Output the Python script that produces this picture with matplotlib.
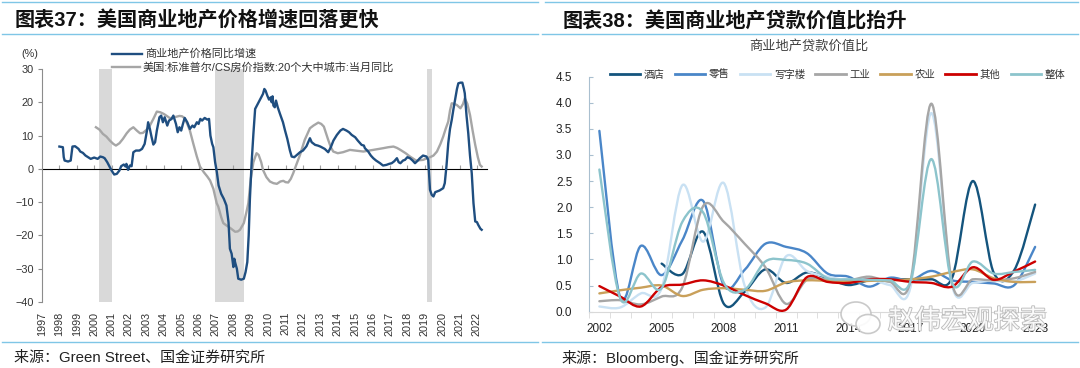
import numpy as np
import matplotlib
matplotlib.use('Agg')
import matplotlib.pyplot as plt
from matplotlib.path import Path
from matplotlib.patches import PathPatch, Ellipse
from matplotlib.lines import Line2D
import matplotlib.patheffects as pe

FAM = ['Liberation Sans', 'Noto Sans CJK SC']
plt.rcParams['font.family'] = FAM

# ---------------- Left chart data ----------------
left_title = '图表37：美国商业地产价格增速回落更快'
left_source = '来源：Green Street、国金证券研究所'
left_series_names = ['商业地产价格同比增速', '美国:标准普尔/CS房价指数:20个大中城市:当月同比']
left_years = list(range(1997, 2023))
left_yticks = [30, 20, 10, 0, -10, -20, -30, -40]
recessions = [(2000.26, 2001.02), (2006.96, 2008.6), (2019.11, 2019.43)]

cre_t = [1998.0, 1998.2, 1998.25, 1998.3, 1998.5, 1998.65, 1998.75, 1998.9, 1999.1, 1999.2,
         1999.35, 1999.5, 1999.65, 1999.8, 2000.0, 2000.2, 2000.35, 2000.5, 2000.6, 2000.75,
         2000.9, 2001.0, 2001.15, 2001.3, 2001.45, 2001.55, 2001.7, 2001.8, 2001.85, 2001.95,
         2002.05, 2002.15, 2002.25, 2002.4, 2002.6, 2002.75, 2002.9, 2003.05, 2003.1, 2003.2,
         2003.3, 2003.4, 2003.5, 2003.6, 2003.75, 2003.85, 2003.95, 2004.05, 2004.2, 2004.3,
         2004.45, 2004.55, 2004.7, 2004.8, 2004.9, 2005.0, 2005.1, 2005.2, 2005.35, 2005.5,
         2005.65, 2005.75, 2005.9, 2006.0, 2006.1, 2006.2, 2006.35, 2006.5, 2006.6, 2006.68,
         2006.78, 2006.85, 2006.95, 2007.05, 2007.15, 2007.3, 2007.45, 2007.6, 2007.72, 2007.8,
         2007.9, 2008.0, 2008.05, 2008.12, 2008.2, 2008.28, 2008.45, 2008.6, 2008.7, 2008.8,
         2008.88, 2008.95, 2009.05, 2009.15, 2009.25, 2009.4, 2009.55, 2009.7, 2009.78, 2009.85,
         2009.95, 2010.05, 2010.15, 2010.2, 2010.25, 2010.3, 2010.38, 2010.45, 2010.55, 2010.68,
         2010.85, 2010.97, 2011.1, 2011.25, 2011.35, 2011.5, 2011.65, 2011.83, 2012.0, 2012.2,
         2012.3, 2012.4, 2012.5, 2012.7, 2012.85, 2013.0, 2013.25, 2013.45, 2013.6, 2013.75,
         2013.95, 2014.15, 2014.3, 2014.5, 2014.65, 2014.8, 2015.0, 2015.15, 2015.37, 2015.5,
         2015.56, 2015.75, 2015.9, 2016.04, 2016.2, 2016.43, 2016.6, 2016.8, 2016.95, 2017.1,
         2017.25, 2017.4, 2017.5, 2017.6, 2017.75, 2017.86, 2018.0, 2018.15, 2018.3, 2018.44,
         2018.6, 2018.72, 2018.9, 2019.1, 2019.2, 2019.25, 2019.3, 2019.4, 2019.5, 2019.6,
         2019.7, 2019.85, 2020.06, 2020.15, 2020.25, 2020.35, 2020.45, 2020.55, 2020.65, 2020.74,
         2020.85, 2020.93, 2021.05, 2021.16, 2021.25, 2021.3, 2021.4, 2021.5, 2021.6, 2021.7,
         2021.8, 2021.9, 2022.0, 2022.07, 2022.2, 2022.27]
cre_v = [6.7, 6.5, 3.5, 2.5, 2.2, 2.5, 6.7, 6.8, 6.0, 5.2,
         4.8, 4.0, 3.5, 3.0, 3.4, 3.0, 3.7, 3.5, 3.2, 2.0,
         0.5, -0.5, -1.7, -1.5, -0.5, 0.8, 1.3, 0.7, 1.5, -0.3,
         1.0, 0.8, 5.0, 5.5, 5.5, 6.0, 7.5, 12.0, 14.0, 12.0,
         9.5, 7.3, 8.0, 11.5, 15.5, 16.0, 14.0, 15.5, 13.0, 14.5,
         15.0, 16.0, 13.5, 11.0, 12.5, 11.5, 13.5, 15.3, 14.0, 12.0,
         13.0, 12.5, 14.0, 13.5, 15.0, 14.5, 15.3, 14.8, 15.0, 10.0,
         7.5, 6.5, 2.0, -1.0, -5.0, -7.5, -9.0, -11.0, -16.0, -24.0,
         -25.5, -29.5, -27.0, -28.5, -30.0, -33.0, -33.3, -33.0, -31.0, -28.0,
         -20.0, -9.0, 2.0, 10.5, 18.0, 19.5, 21.0, 22.5, 24.0, 23.5,
         22.0, 20.8, 21.5, 20.0, 21.8, 19.0, 18.5, 20.5, 18.5, 16.5,
         14.0, 11.5, 9.0, 5.5, 3.7, 3.5, 4.2, 5.0, 5.5, 6.8,
         8.0, 9.2, 8.0, 7.2, 7.0, 6.7, 6.0, 5.0, 6.5, 8.5,
         10.2, 11.5, 12.0, 11.5, 11.0, 10.2, 9.5, 8.5, 7.2, 7.0,
         6.2, 5.2, 4.0, 3.2, 2.5, 1.7, 1.0, 1.2, 1.5, 1.7,
         2.3, 3.2, 2.0, 1.7, 2.5, 2.7, 3.5, 3.2, 2.5, 1.7,
         2.5, 3.2, 4.0, 3.7, 2.7, -2.0, -6.3, -7.8, -8.3, -7.0,
         -6.8, -6.5, -5.8, -4.3, 1.0, 7.7, 12.0, 14.7, 18.0, 20.7,
         24.0, 25.7, 25.9, 25.9, 24.0, 22.7, 16.0, 10.7, 4.0, -1.3,
         -10.3, -15.8, -16.0, -16.8, -18.0, -18.3]

cs_t = [2000.1, 2000.3, 2000.5, 2000.7, 2000.9, 2001.1, 2001.25, 2001.45, 2001.65, 2001.87,
        2002.05, 2002.25, 2002.45, 2002.63, 2002.8, 2003.0, 2003.2, 2003.4, 2003.6, 2003.8,
        2004.0, 2004.2, 2004.36, 2004.6, 2004.9, 2005.05, 2005.2, 2005.35, 2005.5, 2005.7,
        2005.9, 2006.08, 2006.3, 2006.5, 2006.66, 2006.85, 2007.04, 2007.13, 2007.3, 2007.42,
        2007.6, 2007.8, 2008.1, 2008.25, 2008.38, 2008.6, 2008.75, 2008.86, 2009.0, 2009.15,
        2009.33, 2009.45, 2009.6, 2009.7, 2009.9, 2010.1, 2010.3, 2010.5, 2010.7, 2010.87,
        2011.0, 2011.15, 2011.3, 2011.44, 2011.6, 2011.83, 2012.1, 2012.4, 2012.6, 2012.88,
        2013.05, 2013.2, 2013.45, 2013.6, 2013.74, 2014.0, 2014.3, 2014.7, 2015.0, 2015.47,
        2016.04, 2016.6, 2016.9, 2017.2, 2017.4, 2017.6, 2017.9, 2018.15, 2018.5, 2018.9,
        2019.3, 2019.5, 2019.7, 2019.9, 2020.06, 2020.2, 2020.35, 2020.45, 2020.55, 2020.7,
        2020.84, 2021.05, 2021.2, 2021.3, 2021.45, 2021.6, 2021.75, 2021.9, 2022.05, 2022.17,
        2022.27]
cs_v = [12.5, 11.8, 10.5, 9.7, 8.5, 7.5, 7.0, 7.7, 9.0, 10.7,
        11.8, 12.5, 11.5, 10.7, 10.8, 11.7, 13.0, 15.0, 17.2, 17.0,
        16.5, 15.8, 15.2, 15.5, 15.9, 15.8, 15.2, 13.5, 11.5, 7.5,
        3.7, 0.7, -1.0, -2.3, -3.5, -6.0, -10.3, -11.3, -14.5, -16.3,
        -17.0, -17.7, -18.9, -18.8, -18.3, -16.3, -13.0, -10.3, -3.0, 2.0,
        4.7, 4.2, 2.0, -0.3, -2.5, -3.8, -4.3, -4.5, -3.8, -3.6,
        -4.0, -4.1, -3.0, -1.3, 1.0, 4.2, 8.7, 12.2, 13.0, 13.9,
        13.5, 12.7, 8.7, 6.5, 5.2, 4.7, 5.0, 5.7, 5.5, 5.2,
        5.7, 6.2, 6.5, 6.7, 6.3, 5.7, 4.7, 3.7, 2.5, 2.7,
        3.5, 4.0, 5.2, 7.5, 9.7, 12.0, 14.2, 17.5, 19.7, 19.5,
        19.2, 18.2, 19.5, 21.2, 19.5, 16.2, 11.5, 7.2, 3.5, 1.2,
        0.7]

# ---------------- Right chart data ----------------
right_title = '图表38：美国商业地产贷款价值比抬升'
right_subtitle = '商业地产贷款价值比'
right_source = '来源：Bloomberg、国金证券研究所'
ltv_years = list(range(2002, 2024))
ltv_tick_years = [2002, 2005, 2008, 2011, 2014, 2017, 2020, 2023]
ltv_yticks = [0.0, 0.5, 1.0, 1.5, 2.0, 2.5, 3.0, 3.5, 4.0, 4.5]
nan = float('nan')
ltv_names = ['酒店', '零售', '写字楼', '工业', '农业', '其他', '整体']
hotel = [nan, nan, nan, 0.92, 0.72, 1.53, 0.15, 0.38, 0.81, 0.55, 0.75, 0.64, 0.51, 0.60,
         0.62, 0.62, 0.62, 0.65, 2.50, 0.75, 0.80, 2.05]
retail = [3.46, 0.28, 1.26, 0.70, 1.37, 2.12, 0.50, 0.80, 1.30, 1.24, 1.12, 0.73, 0.67, 0.48,
          0.65, 0.60, 0.78, 0.60, 0.57, 0.54, 0.51, 1.24]
office = [0.10, 0.08, 0.35, 0.45, 2.42, 1.34, 2.46, 0.50, 0.08, 1.06, 0.78, 0.67, 0.60, 0.62,
          0.51, 0.48, 3.80, 0.50, 0.55, 0.60, 0.58, 0.73]
industrial = [0.20, 0.22, 0.14, 0.29, 0.47, 2.02, 1.72, 1.30, 0.85, 0.15, 0.61, 0.62, 0.60,
              0.67, 0.57, 0.60, 3.98, 0.54, 0.62, 0.60, 0.64, 0.76]
agri = [0.35, 0.41, 0.46, 0.50, 0.30, 0.42, 0.45, 0.42, 0.40, 0.56, 0.60, 0.59, 0.57, 0.59,
        0.60, 0.62, 0.67, 0.76, 0.81, 0.64, 0.57, 0.57]
other = [0.49, 0.29, 0.10, 0.47, 0.52, 0.60, 0.50, 0.32, 0.16, 0.04, 0.66, 0.57, 0.55, 0.62,
         0.62, 0.57, 0.55, 0.48, 0.85, 0.61, 0.77, 0.96]
overall = [2.72, 0.26, 0.73, 0.45, 1.72, 1.90, 0.55, 0.42, 0.96, 0.99, 0.92, 0.64, 0.62, 0.61,
           0.60, 0.59, 2.92, 0.55, 0.96, 0.73, 0.76, 0.80]
ltv_series = [hotel, retail, office, industrial, agri, other, overall]
ltv_colors = ['#14547d', '#4a86c8', '#c9e1f3', '#a6a6a6', '#c9a05a', '#cc0000', '#8cc4cc']

W, H = 1080, 368
fig = plt.figure(figsize=(W / 100, H / 100), dpi=100)


def fx(px):
    return px / W


def fy(py):
    return 1 - py / H


def hline(x0, x1, y, color='#7fc6e6', lw=1.0):
    fig.add_artist(Line2D([fx(x0), fx(x1)], [fy(y), fy(y)], transform=fig.transFigure,
                          color=color, lw=lw))


# header / footer rules
hline(2, 538, 2)
hline(545, 1078, 2)
hline(2, 538, 33.5)
hline(542, 1078, 33.5)
hline(2, 538, 342)
hline(542, 1078, 342)

fig.text(fx(15), fy(21), left_title, fontsize=14.5, fontweight='bold', va='center', ha='left',
         color='#111111')
fig.text(fx(563), fy(21), right_title, fontsize=14.5, fontweight='bold', va='center', ha='left',
         color='#111111')
fig.text(fx(14), fy(358), left_source, fontsize=10.8, va='center', ha='left', color='#222222')
fig.text(fx(561), fy(358), right_source, fontsize=10.8, va='center', ha='left', color='#222222')

# ---------------- Left axes ----------------
axL = fig.add_axes([fx(42), fy(302), (487.4 - 42) / W, (302 - 69) / H])
axL.set_xlim(1997, 2022.6)
axL.set_ylim(-40, 30)
for a, b in recessions:
    axL.axvspan(a, b, color='#d9d9d9', lw=0, zorder=0)
axL.plot(cs_t, cs_v, color='#a6a6a6', lw=1.7, zorder=3)
axL.plot(cre_t, cre_v, color='#1f4e80', lw=1.7, zorder=4)
for s in ['top', 'right', 'bottom']:
    axL.spines[s].set_visible(False)
axL.spines['left'].set_color('#8c8c8c')
axL.set_yticks(left_yticks)
axL.tick_params(axis='y', length=3, color='#8c8c8c', labelsize=7.8, labelcolor='#333333', pad=3)
axL.set_xticks(left_years)
axL.set_xticklabels([str(y) for y in left_years], rotation=90)
axL.tick_params(axis='x', length=0, labelsize=7.8, labelcolor='#333333', pad=7)
sec = axL.secondary_xaxis(40 / 70)
sec.set_xticks(left_years[1:])
sec.set_xticklabels([])
sec.tick_params(axis='x', length=3, color='#a0a0a0', direction='out')
sec.spines['bottom'].set_color('#a0a0a0')
sec.spines['bottom'].set_linewidth(1.0)

# left legend
fig.text(fx(21), fy(54), '(%)', fontsize=7.8, va='center', ha='left', color='#333333')
fig.add_artist(Line2D([fx(112), fx(142)], [fy(54), fy(54)], transform=fig.transFigure,
                      color='#1f4e80', lw=1.7))
fig.text(fx(145), fy(54), left_series_names[0], fontsize=8, va='center', ha='left', color='#333333')
fig.add_artist(Line2D([fx(112), fx(140)], [fy(67.3), fy(67.3)], transform=fig.transFigure,
                      color='#a6a6a6', lw=1.7))
fig.text(fx(143), fy(67.3), left_series_names[1], fontsize=8, va='center', ha='left',
         color='#333333')


# ---------------- Right axes ----------------
def smooth_path(x, y):
    x = np.asarray(x, float)
    y = np.asarray(y, float)
    valid = ~np.isnan(y)
    verts, codes = [], []
    n = len(x)
    i = 0
    while i < n:
        if not valid[i]:
            i += 1
            continue
        j = i
        while j + 1 < n and valid[j + 1]:
            j += 1
        px, py = x[i:j + 1], y[i:j + 1]
        m = len(px)
        verts.append((px[0], py[0]))
        codes.append(Path.MOVETO)
        for k in range(m - 1):
            k0 = max(k - 1, 0)
            k3 = min(k + 2, m - 1)
            c1 = (px[k] + (px[k + 1] - px[k0]) / 6, py[k] + (py[k + 1] - py[k0]) / 6)
            c2 = (px[k + 1] - (px[k3] - px[k]) / 6, py[k + 1] - (py[k3] - py[k]) / 6)
            verts += [c1, c2, (px[k + 1], py[k + 1])]
            codes += [Path.CURVE4] * 3
        i = j + 1
    return Path(verts, codes)


axR = fig.add_axes([fx(589), fy(311.7), (1045.5 - 589) / W, (311.7 - 76.5) / H])
axR.set_xlim(2001.5, 2023.5)
axR.set_ylim(0, 4.5)
for vals, col in zip(ltv_series, ltv_colors):
    axR.add_patch(PathPatch(smooth_path(ltv_years, vals), fill=False, edgecolor=col, lw=1.7,
                            joinstyle='round', capstyle='round', zorder=3))
for s in ['top', 'right']:
    axR.spines[s].set_visible(False)
axR.spines['left'].set_color('#a9bfcf')
axR.spines['bottom'].set_color('#d9d9d9')
axR.set_yticks(ltv_yticks)
axR.set_yticklabels([f'{v:.1f}' for v in ltv_yticks])
axR.tick_params(axis='y', direction='in', length=3, color='#a9bfcf', labelsize=8.5,
                labelcolor='#222222', pad=12)
axR.set_xticks(ltv_tick_years)
axR.set_xticklabels([str(y) for y in ltv_tick_years])
axR.set_xticks([y + 0.5 for y in range(2001, 2023)], minor=True)
axR.tick_params(axis='x', which='major', length=0, labelsize=8.5, labelcolor='#222222', pad=8)
axR.tick_params(axis='x', which='minor', length=4, color='#d9d9d9', direction='out')

fig.text(fx(809), fy(46.7), right_subtitle, fontsize=9.5, va='center', ha='center',
         color='#404040')
handles = [Line2D([0], [0], color=c, lw=2) for c in ltv_colors]
leg = fig.legend(handles, ltv_names, loc='center left', bbox_to_anchor=(fx(610), fy(74.4)),
                 ncol=7, frameon=False, fontsize=7.5, handlelength=2.9, handletextpad=0.35,
                 columnspacing=1.0, borderaxespad=0, borderpad=0)
for t in leg.get_texts():
    t.set_color('#333333')

# watermark
for (cx, cy, w, h) in [(856, 314, 30, 24), (868, 324, 24, 19)]:
    fig.add_artist(Ellipse((fx(cx), fy(cy)), w / W, h / H, transform=fig.transFigure,
                           facecolor='white', edgecolor='#c4c4c4', lw=1.2, alpha=0.9, zorder=10))
fig.text(fx(888), fy(321), '赵伟宏观探索', fontsize=19, va='center', ha='left', color='white',
         alpha=0.92, zorder=11,
         path_effects=[pe.withStroke(linewidth=1.3, foreground='#b8b8b8')])

fig.savefig('out.png', dpi=100)
